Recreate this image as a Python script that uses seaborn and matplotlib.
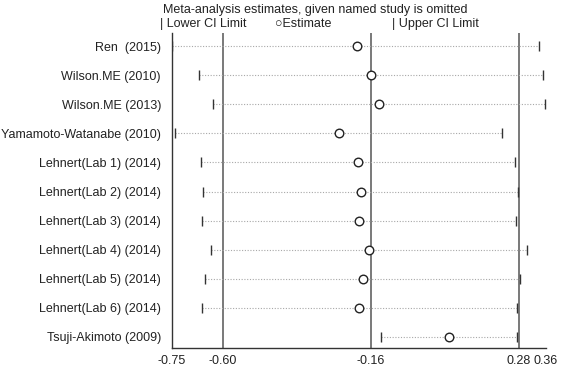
import matplotlib
matplotlib.use("Agg")
import matplotlib.pyplot as plt
import seaborn as sns
import pandas as pd

studies = ["Ren  (2015)", "Wilson.ME (2010)", "Wilson.ME (2013)", "Yamamoto-Watanabe (2010)",
           "Lehnert(Lab 1) (2014)", "Lehnert(Lab 2) (2014)", "Lehnert(Lab 3) (2014)",
           "Lehnert(Lab 4) (2014)", "Lehnert(Lab 5) (2014)", "Lehnert(Lab 6) (2014)",
           "Tsuji-Akimoto (2009)"]
lower = [-0.75, -0.671, -0.627, -0.742, -0.665, -0.659, -0.662, -0.635, -0.653, -0.662, -0.130]
estimate = [-0.201, -0.160, -0.136, -0.254, -0.198, -0.189, -0.195, -0.166, -0.183, -0.195, 0.073]
upper = [0.339, 0.351, 0.357, 0.230, 0.268, 0.277, 0.271, 0.304, 0.283, 0.274, 0.274]
ref_lines = [-0.60, -0.16, 0.28]
tick_vals = [-0.75, -0.60, -0.16, 0.28, 0.36]
tick_labels = ["-0.75", "-0.60", "-0.16", "0.28", "0.36"]

sns.set_style("white")
plt.rcParams['font.family'] = ['Liberation Sans', 'DejaVu Sans']

df = pd.DataFrame({"study": studies, "lower": lower, "est": estimate, "upper": upper,
                   "pos": list(range(len(studies)))})

W, H = 561, 368
fig = plt.figure(figsize=(W / 100, H / 100), dpi=100)
ax = fig.add_axes([172 / W, 1 - 348 / H, (546 - 172) / W, (348 - 33) / H])

# dotted CI lines
ax.hlines(df["pos"], df["lower"], df["upper"], colors="#a8a8a8", linestyles=(0, (1, 1.5)), lw=0.8, zorder=1)
# reference vertical lines
for v in ref_lines:
    ax.axvline(v, color="#555555", lw=1.1, zorder=0)
# CI limit markers
sns.scatterplot(data=df, x="lower", y="pos", marker="|", s=60, color="#333333", linewidth=1.0, ax=ax, zorder=3)
sns.scatterplot(data=df, x="upper", y="pos", marker="|", s=60, color="#333333", linewidth=1.0, ax=ax, zorder=3)
# estimates
sns.scatterplot(data=df, x="est", y="pos", marker="o", s=38, facecolor="white", edgecolor="#222222",
                linewidth=1.0, ax=ax, zorder=4)

ax.set_xlim(-0.75, 0.36)
ax.set_ylim(10.38, -0.45)
ax.set_yticks(df["pos"])
ax.set_yticklabels(studies, fontsize=9, color="#222222")
ax.tick_params(axis="y", length=0, pad=8)
ax.set_xticks(tick_vals)
ax.set_xticklabels(tick_labels, fontsize=9, color="#222222")
ax.tick_params(axis="x", length=4, width=1, color="#333333", direction="out", pad=1)
ax.set_xlabel("")
ax.set_ylabel("")
for s in ["top", "right"]:
    ax.spines[s].set_visible(False)
for s in ["left", "bottom"]:
    ax.spines[s].set_color("#333333")
    ax.spines[s].set_linewidth(1.0)

fig.text(163 / W, 1 - 10 / H, "Meta-analysis estimates, given named study is omitted",
         fontsize=9, va="center", ha="left", color="#222222")
fig.text(160 / W, 1 - 24 / H, "| Lower CI Limit", fontsize=9, va="center", ha="left", color="#222222")
fig.text(275 / W, 1 - 24 / H, "\u25cbEstimate", fontsize=9, va="center", ha="left", color="#222222")
fig.text(392 / W, 1 - 24 / H, "| Upper CI Limit", fontsize=9, va="center", ha="left", color="#222222")

fig.savefig("out.png", dpi=100, facecolor="white")
